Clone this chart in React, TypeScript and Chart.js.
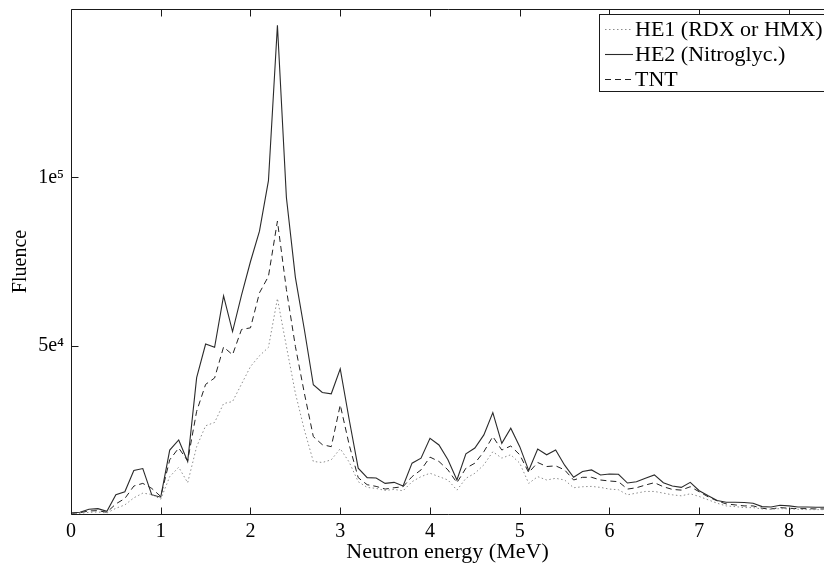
import React, { useEffect, useRef } from "react";
import { Chart, registerables } from "chart.js";

Chart.register(...registerables);

// Neutron energy (MeV)
const energies = [
  0.0, 0.1, 0.2, 0.3, 0.4, 0.5, 0.6, 0.7, 0.8, 0.9,
  1.0, 1.1, 1.2, 1.3, 1.4, 1.5, 1.6, 1.7, 1.8, 1.9,
  2.0, 2.1, 2.2, 2.3, 2.4, 2.5, 2.6, 2.7, 2.8, 2.9,
  3.0, 3.1, 3.2, 3.3, 3.4, 3.5, 3.6, 3.7, 3.8, 3.9,
  4.0, 4.1, 4.2, 4.3, 4.4, 4.5, 4.6, 4.7, 4.8, 4.9,
  5.0, 5.1, 5.2, 5.3, 5.4, 5.5, 5.6, 5.7, 5.8, 5.9,
  6.0, 6.1, 6.2, 6.3, 6.4, 6.5, 6.6, 6.7, 6.8, 6.9,
  7.0, 7.1, 7.2, 7.3, 7.4, 7.5, 7.6, 7.7, 7.8, 7.9,
  8.0, 8.1, 8.2, 8.3, 8.4,
];

// Fluence, in thousands
const he1 = [
  0.1, 0.2, 0.5, 0.6, 0.3, 1.7, 2.7, 4.8, 6.2, 5.8,
  4.4, 11.1, 13.9, 9.3, 20.0, 26.2, 27.2, 32.8, 33.4, 38.6,
  43.8, 47.0, 49.5, 64.0, 49.8, 35.9, 25.0, 15.6, 15.3, 16.1,
  19.4, 15.4, 9.6, 7.9, 7.6, 7.0, 7.3, 6.9, 9.6, 11.1,
  12.1, 11.1, 10.1, 7.1, 10.6, 12.1, 14.6, 18.5, 16.6, 17.6,
  15.1, 9.1, 11.1, 10.1, 10.6, 10.1, 7.8, 8.1, 8.2, 7.9,
  7.4, 7.2, 5.7, 6.2, 6.7, 6.7, 6.2, 5.7, 5.4, 6.0,
  5.2, 4.2, 3.2, 2.4, 2.2, 1.9, 1.9, 1.5, 1.4, 1.6,
  1.5, 1.4, 1.3, 1.3, 1.3,
];

const he2 = [
  0.3, 0.5, 1.4, 1.6, 0.8, 5.7, 6.6, 12.9, 13.5, 5.7,
  5.0, 19.0, 22.0, 15.6, 40.5, 50.5, 49.5, 64.8, 54.2, 65.0,
  75.0, 84.0, 99.0, 145.2, 94.0, 70.3, 54.8, 38.4, 36.1, 35.7,
  43.1, 28.0, 13.6, 10.8, 10.7, 9.1, 9.4, 8.3, 15.1, 16.6,
  22.5, 20.5, 16.1, 10.1, 17.9, 19.6, 23.5, 30.1, 21.0, 25.5,
  20.0, 12.9, 19.3, 17.6, 19.0, 14.5, 10.9, 12.6, 13.1, 11.6,
  11.9, 11.8, 9.2, 9.6, 10.6, 11.6, 9.3, 8.3, 7.9, 9.4,
  6.9, 5.4, 4.0, 3.5, 3.5, 3.4, 3.2, 2.2, 2.1, 2.6,
  2.4, 2.1, 2.1, 2.0, 2.0,
];

const tnt = [
  0.2, 0.4, 0.9, 1.0, 0.5, 3.0, 4.6, 8.3, 9.1, 7.6,
  5.2, 16.1, 19.6, 15.8, 30.5, 38.5, 40.4, 49.6, 47.3, 54.8,
  55.3, 65.7, 70.6, 87.0, 66.7, 49.8, 35.9, 23.0, 20.6, 20.0,
  32.4, 20.5, 10.8, 8.7, 8.2, 7.4, 7.8, 8.1, 11.1, 13.1,
  16.9, 15.6, 13.1, 9.3, 13.6, 15.1, 18.5, 23.0, 19.0, 20.2,
  17.6, 12.3, 15.3, 14.1, 14.3, 13.1, 10.1, 10.9, 10.9, 10.1,
  9.8, 9.6, 7.4, 7.8, 8.6, 9.3, 8.1, 7.3, 7.1, 8.1,
  6.6, 5.1, 3.9, 3.0, 2.7, 2.4, 2.4, 1.7, 1.5, 1.9,
  1.7, 1.6, 1.6, 1.5, 1.5,
];

const seriesNames = ["HE1 (RDX or HMX)", "HE2 (Nitroglyc.)", "TNT"];
const xTickValues = [0, 1, 2, 3, 4, 5, 6, 7, 8];
const yTickValues = [50000, 100000];
const yTickLabels = ["5e⁴", "1e⁵"];

const SERIF = "'Liberation Serif', 'Times New Roman', serif";

const toPoints = (vals: number[]) =>
  vals.map((v, i) => ({ x: energies[i], y: v * 1000 }));

const framePlugin = {
  id: "frameAndLegend",
  afterDraw(chart: any) {
    const { ctx, chartArea, scales } = chart;
    const { left, right, top, bottom } = chartArea;
    const xs = scales.x;
    const ys = scales.y;
    ctx.save();
    ctx.strokeStyle = "#1a1a1a";
    ctx.lineWidth = 1;
    ctx.setLineDash([]);
    ctx.beginPath();
    const L = Math.round(left) + 0.5;
    const B = Math.round(bottom) + 0.5;
    const T = Math.round(top) + 0.5;
    ctx.moveTo(L, T);
    ctx.lineTo(L, B);
    ctx.lineTo(right + 2, B);
    ctx.moveTo(L, T);
    ctx.lineTo(right + 2, T);
    for (const v of xTickValues) {
      const px = Math.round(xs.getPixelForValue(v)) + 0.5;
      ctx.moveTo(px, B);
      ctx.lineTo(px, B - 7);
      ctx.moveTo(px, T);
      ctx.lineTo(px, T + 7);
    }
    for (const v of yTickValues) {
      const py = Math.round(ys.getPixelForValue(v)) + 0.5;
      ctx.moveTo(L, py);
      ctx.lineTo(L + 7, py);
    }
    ctx.stroke();

    // legend
    const bx = 599.5;
    const by = 14.5;
    const bw = 300;
    const bh = 77;
    ctx.fillStyle = "#ffffff";
    ctx.fillRect(bx, by, bw, bh);
    ctx.strokeStyle = "#1a1a1a";
    ctx.strokeRect(bx, by, bw, bh);
    const rows = [29.5, 54.5, 79.5];
    ctx.font = `22px ${SERIF}`;
    ctx.textBaseline = "middle";
    ctx.textAlign = "left";
    [0, 1, 2].forEach((di, r) => {
      const ds = chart.data.datasets[di];
      ctx.beginPath();
      ctx.strokeStyle = ds.borderColor;
      ctx.lineWidth = ds.borderWidth;
      ctx.setLineDash(ds.borderDash || []);
      ctx.moveTo(605, rows[r]);
      ctx.lineTo(633, rows[r]);
      ctx.stroke();
      ctx.setLineDash([]);
      ctx.fillStyle = "#000";
      ctx.fillText(seriesNames[di], 635, rows[r] + 1);
    });
    ctx.restore();
  },
};

export default function App() {
  const ref = useRef<HTMLCanvasElement | null>(null);

  useEffect(() => {
    if (!ref.current) return;
    const chart = new Chart(ref.current, {
      type: "line",
      data: {
        datasets: [
          {
            label: seriesNames[0],
            data: toPoints(he1),
            borderColor: "#8c8c8c",
            borderWidth: 1,
            borderDash: [1.5, 2.5],
            pointRadius: 0,
            tension: 0,
            fill: false,
          },
          {
            label: seriesNames[1],
            data: toPoints(he2),
            borderColor: "#2a2a2a",
            borderWidth: 1.1,
            pointRadius: 0,
            tension: 0,
            fill: false,
          },
          {
            label: seriesNames[2],
            data: toPoints(tnt),
            borderColor: "#222222",
            borderWidth: 1,
            borderDash: [6, 4],
            pointRadius: 0,
            tension: 0,
            fill: false,
          },
        ],
      },
      options: {
        animation: false,
        responsive: false,
        devicePixelRatio: 1,
        layout: { padding: { top: 9, right: 0, left: 0, bottom: 0 } },
        plugins: {
          legend: { display: false },
          tooltip: { enabled: false },
        },
        scales: {
          x: {
            type: "linear",
            min: 0,
            max: 8.39,
            afterBuildTicks: (s: any) => {
              s.ticks = xTickValues.map((v) => ({ value: v }));
            },
            ticks: {
              color: "#000",
              font: { family: SERIF, size: 20 },
              padding: 6,
              maxRotation: 0,
              autoSkip: false,
              callback: (v: any) => String(v),
            },
            grid: { display: false, drawTicks: false },
            border: { display: false },
            title: {
              display: true,
              text: "Neutron energy (MeV)",
              color: "#000",
              font: { family: SERIF, size: 22 },
              padding: { top: 0, bottom: 2 },
            },
            afterFit: (s: any) => {
              s.height = 53;
              s.paddingLeft = 0;
              s.paddingRight = 0;
            },
          },
          y: {
            type: "linear",
            min: 0,
            max: 150000,
            afterBuildTicks: (s: any) => {
              s.ticks = yTickValues.map((v) => ({ value: v }));
            },
            ticks: {
              color: "#000",
              font: { family: SERIF, size: 20 },
              padding: 7,
              callback: (v: any) => {
                const i = yTickValues.indexOf(Number(v));
                return i >= 0 ? yTickLabels[i] : "";
              },
            },
            grid: { display: false, drawTicks: false },
            border: { display: false },
            title: {
              display: true,
              text: "Fluence",
              color: "#000",
              font: { family: SERIF, size: 20 },
              padding: { top: 9, bottom: 0 },
            },
            afterFit: (s: any) => {
              s.width = 71;
              s.paddingTop = 0;
              s.paddingBottom = 0;
            },
          },
        },
      },
      plugins: [framePlugin],
    });
    return () => chart.destroy();
  }, []);

  return (
    <canvas
      ref={ref}
      width={824}
      height={567}
      style={{ position: "absolute", left: 0, top: 0, width: 824, height: 567 }}
    />
  );
}
